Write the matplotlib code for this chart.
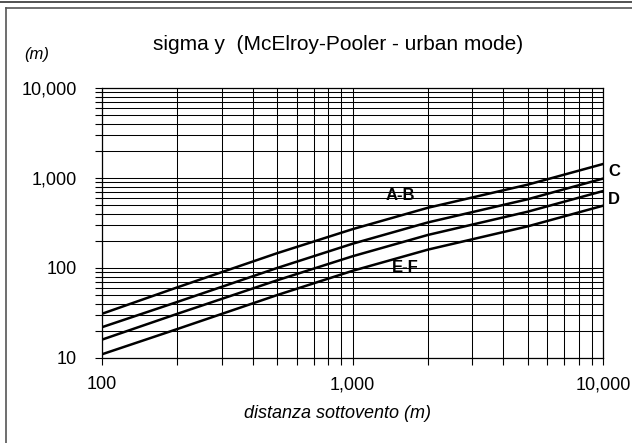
import matplotlib
matplotlib.use('Agg')
import matplotlib.pyplot as plt
from matplotlib.ticker import FuncFormatter, LogLocator, NullFormatter
from matplotlib.lines import Line2D

plt.rcParams['font.family'] = ['Liberation Sans', 'DejaVu Sans']

distanza = [100, 200, 500, 1000, 2000, 5000, 10000]
sigma_ab = [31, 61, 146, 270, 467, 843, 1430]
sigma_c = [22, 42, 100, 186, 321, 580, 985]
sigma_d = [16, 31, 73, 135, 233, 422, 716]
sigma_ef = [11, 21, 50, 93, 160, 290, 492]

fig = plt.figure(figsize=(6.32, 4.43), dpi=100)
ax = fig.add_axes([102/632, 1 - 358/443, 501/632, 270/443])

for s in [sigma_ab, sigma_c, sigma_d, sigma_ef]:
    ax.plot(distanza, s, color='black', lw=1.8, zorder=3)

ax.set_xscale('log')
ax.set_yscale('log')
ax.set_xlim(100, 10000)
ax.set_ylim(10, 10000)

fmt = FuncFormatter(lambda v, p: '{:,.0f}'.format(v))
ax.xaxis.set_major_formatter(fmt)
ax.yaxis.set_major_formatter(fmt)
ax.xaxis.set_minor_locator(LogLocator(base=10, subs=range(2, 10)))
ax.yaxis.set_minor_locator(LogLocator(base=10, subs=range(2, 10)))
ax.xaxis.set_minor_formatter(NullFormatter())
ax.yaxis.set_minor_formatter(NullFormatter())

ax.grid(True, which='both', color='black', lw=0.75)
ax.tick_params(which='both', direction='out', length=5, width=0.8, color='black',
               labelsize=13)
ax.tick_params(axis='y', pad=13)
ax.tick_params(axis='x', pad=8)
for sp in ax.spines.values():
    sp.set_color('black')
    sp.set_linewidth(0.9)

fig.text(338/632, 1 - 413/443, 'distanza sottovento (m)', style='italic', fontsize=13,
         ha='center', va='center')
fig.text(338/632, 1 - 44/443, 'sigma y  (McElroy-Pooler - urban mode)', fontsize=15,
         ha='center', va='center')
fig.text(37/632, 1 - 55/443, '(m)', style='italic', fontsize=12,
         ha='center', va='center')

ax.text(1549, 646, 'A-B', fontsize=12, fontweight='bold', ha='center', va='center')
ax.text(1621, 100, 'E-F', fontsize=12, fontweight='bold', ha='center', va='center',
        zorder=4)
ax.text(11060, 1166, 'C', fontsize=12, fontweight='bold', ha='center', va='center',
        clip_on=False)
ax.text(11060, 570, 'D', fontsize=12, fontweight='bold', ha='center', va='center',
        clip_on=False)

# cornice del foglio
fig.add_artist(Line2D([0, 1], [1 - 1.5/443, 1 - 1.5/443], color='#333333', lw=1.2,
                      transform=fig.transFigure))
fig.add_artist(Line2D([5.5/632, 1], [1 - 7.5/443, 1 - 7.5/443], color='#555555', lw=1.2,
                      transform=fig.transFigure))
fig.add_artist(Line2D([5.5/632, 5.5/632], [0, 1 - 7.5/443], color='#555555', lw=1.2,
                      transform=fig.transFigure))

fig.savefig('out.png', dpi=100)
